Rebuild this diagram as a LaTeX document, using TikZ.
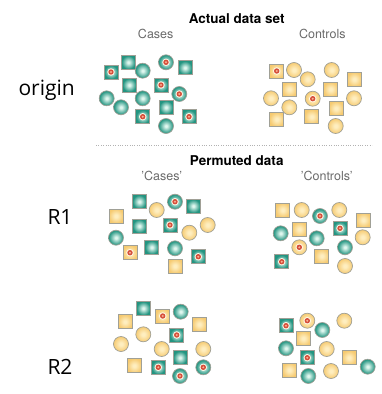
\documentclass[tikz,border=0pt]{standalone}
\usepackage{fontspec}
\setmainfont{TeX Gyre Heros}
\newfontfamily\labfont{Open Sans}
\definecolor{tealO}{RGB}{34,148,128}
\definecolor{tealI}{RGB}{225,248,240}
\definecolor{yelO}{RGB}{246,202,112}
\definecolor{yelI}{RGB}{254,238,192}
\definecolor{edgeG}{RGB}{160,160,150}
\definecolor{redR}{RGB}{214,78,58}
\definecolor{redI}{RGB}{246,178,150}
\definecolor{txtG}{RGB}{105,105,105}
\pgfdeclareradialshading{tealball}{\pgfpoint{0bp}{0bp}}{color(0bp)=(tealI); color(3bp)=(tealI); color(24bp)=(tealO); color(50bp)=(tealO)}
\pgfdeclareradialshading{yelball}{\pgfpoint{0bp}{0bp}}{color(0bp)=(yelI); color(5bp)=(yelI); color(26bp)=(yelO); color(50bp)=(yelO)}
\tikzset{
  base/.style={draw=edgeG, line width=0.7pt, inner sep=0pt},
  tsq/.style={base, rectangle, minimum size=14pt, shading=tealball},
  tci/.style={base, circle, minimum size=15pt, shading=tealball},
  ysq/.style={base, rectangle, minimum size=14pt, shading=yelball},
  yci/.style={base, circle, minimum size=15pt, shading=yelball},
  red/.style={path picture={
     \fill[white!60!yelI] (path picture bounding box.center) circle (3.7pt);
     \fill[redR] (path picture bounding box.center) circle (2.7pt);
     \fill[redI] (path picture bounding box.center) circle (1.1pt);}},
  head/.style={font=\bfseries\fontsize{13.5}{15}\selectfont},
  sub/.style={text=txtG, font=\fontsize{12.5}{14}\selectfont},
  rowlab/.style={font=\labfont\fontsize{21}{24}\selectfont}
}
\begin{document}
\begin{tikzpicture}[x=1pt,y=-1pt]
\useasboundingbox (0,0) rectangle (382,394);
% labels
\node[rowlab] (lo) at (46.7,90) {origin};
\node[rowlab] (l1) at (60,216.7) {R1};
\node[rowlab] (l2) at (60,366.7) {R2};
\node[head] (h1) at (236.7,18.3) {Actual data set};
\node[sub] (s1) at (155.7,34.3) {Cases};
\node[sub] (s2) at (322.3,34.3) {Controls};
\coordinate (dl) at (96,145);
\coordinate (dr) at (372,145);
\draw[gray!60, line width=0.8pt, dash pattern=on 0.8pt off 1.6pt] (dl) -- (dr);
\node[head] (h2) at (236.7,160.7) {Permuted data};
\node[sub] (s3) at (161.7,176) {'Cases'};
\node[sub] (s4) at (326.7,176) {'Controls'};
% origin cases
\node[tsq,red] (a1) at (111,72) {};
\node[tsq] (a2) at (128.3,62.3) {};
\node[tci] (a3) at (142.7,70.7) {};
\node[tci,red] (a4) at (166,62.3) {};
\node[tsq] (a5) at (185,67.7) {};
\node[tsq] (a6) at (129.3,85) {};
\node[tsq,red] (a7) at (161,85) {};
\node[tci,red] (a8) at (179.3,94) {};
\node[tci] (a9) at (106.7,98.3) {};
\node[tci] (a10) at (142.7,98.3) {};
\node[tci] (a11) at (121,107.3) {};
\node[tsq] (a12) at (166,107.3) {};
\node[tsq,red] (a13) at (142.7,116.7) {};
\node[tsq,red] (a14) at (189,116.7) {};
\node[tci] (a15) at (166,126) {};
% origin controls
\node[ysq,red] (b1) at (276.7,71) {};
\node[yci] (b2) at (294,70) {};
\node[yci] (b3) at (307.7,79.3) {};
\node[yci] (b4) at (331.7,70) {};
\node[ysq] (b5) at (354.3,79.3) {};
\node[ysq] (b6) at (289.3,89.3) {};
\node[ysq] (b7) at (330.7,89.3) {};
\node[yci] (b8) at (271,98.3) {};
\node[yci,red] (b9) at (312.7,98.7) {};
\node[yci] (b10) at (354,98.3) {};
\node[yci] (b11) at (289.3,107.3) {};
\node[ysq] (b12) at (336,108.3) {};
\node[ysq] (b13) at (276.7,119.3) {};
\node[ysq] (b14) at (311.7,116.7) {};
\node[yci] (b15) at (335.7,126) {};
% R1 cases
\node[ysq] (c1) at (116,216) {};
\node[tsq] (c2) at (139.3,201.7) {};
\node[yci] (c3) at (156.7,210) {};
\node[tci,red] (c4) at (175,201.7) {};
\node[tsq] (c5) at (193.3,206) {};
\node[tsq] (c6) at (139.3,226) {};
\node[tsq,red] (c7) at (170,225) {};
\node[yci] (c8) at (189.3,232.7) {};
\node[yci] (c9) at (207.7,225) {};
\node[tci] (c10) at (116,237.7) {};
\node[ysq,red] (c11) at (130,252.7) {};
\node[tsq] (c12) at (151.7,247.3) {};
\node[tci] (c13) at (175,248.3) {};
\node[tsq,red] (c14) at (198.3,256.7) {};
\node[ysq] (c15) at (175,266) {};
% R1 controls
\node[ysq] (d1) at (282.7,210) {};
\node[yci] (d2) at (301.7,210) {};
\node[tci,red] (d3) at (320,216) {};
\node[yci] (d4) at (339.3,210) {};
\node[ysq] (d5) at (363.3,220) {};
\node[ysq] (d6) at (299.3,229.3) {};
\node[tsq,red] (d7) at (340,228.3) {};
\node[tci] (d8) at (280.7,233.3) {};
\node[tci] (d9) at (316.7,238.3) {};
\node[yci] (d10) at (362.7,237.3) {};
\node[yci,red] (d11) at (299.3,247.3) {};
\node[tci] (d12) at (345,247.3) {};
\node[ysq] (d13) at (321.7,256) {};
\node[tsq,red] (d14) at (281.7,261.7) {};
\node[yci] (d15) at (345,266) {};
% R2 cases
\node[tsq] (e1) at (143.3,308.3) {};
\node[ysq] (e2) at (125,321.7) {};
\node[ysq,red] (e3) at (162.7,316) {};
\node[tci] (e4) at (180.7,311.7) {};
\node[ysq] (e5) at (199.3,324.3) {};
\node[yci] (e6) at (143.3,334.3) {};
\node[tsq,red] (e7) at (176.7,335) {};
\node[yci] (e8) at (121,344) {};
\node[yci] (e9) at (161.7,349) {};
\node[yci] (e10) at (203.3,349) {};
\node[tsq] (e11) at (180,357.7) {};
\node[ysq] (e12) at (134.3,365.7) {};
\node[tsq,red] (e13) at (158.3,367.3) {};
\node[tci,red] (e14) at (203.3,367.3) {};
\node[tci,red] (e15) at (180,376) {};
% R2 controls
\node[tsq,red] (f1) at (286,325.7) {};
\node[yci,red] (f2) at (307.3,320.7) {};
\node[tci] (f3) at (322.3,330) {};
\node[yci] (f4) at (344.3,320.7) {};
\node[ysq] (f5) at (303.3,338.3) {};
\node[tci] (f6) at (286,348.3) {};
\node[yci] (f7) at (326.7,349) {};
\node[tsq,red] (f8) at (307.3,357.7) {};
\node[ysq] (f9) at (349,357.7) {};
\node[tci] (f10) at (367.7,366.7) {};
\node[ysq] (f11) at (289.3,370) {};
\node[tci] (f12) at (308.3,376) {};
\node[yci] (f13) at (331,371) {};
\end{tikzpicture}
\end{document}
